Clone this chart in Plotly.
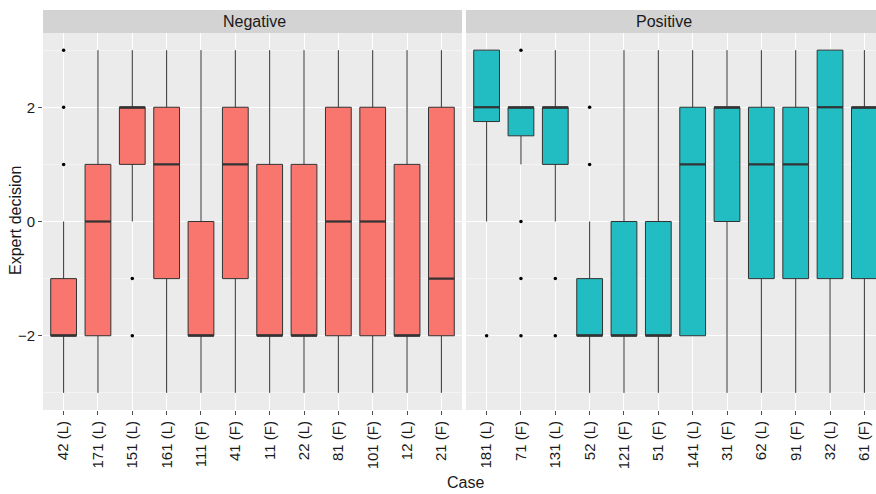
import plotly.graph_objects as go

# ---- data -------------------------------------------------------------
neg_cases = ["42 (L)", "171 (L)", "151 (L)", "161 (L)", "111 (F)", "41 (F)",
             "11 (F)", "22 (L)", "81 (F)", "101 (F)", "12 (L)", "21 (F)"]
neg_low = [-3, -3, 0, -3, -3, -3, -3, -3, -3, -3, -3, -3]
neg_q1 = [-2, -2, 1, -1, -2, -1, -2, -2, -2, -2, -2, -2]
neg_med = [-2, 0, 2, 1, -2, 1, -2, -2, 0, 0, -2, -1]
neg_q3 = [-1, 1, 2, 2, 0, 2, 1, 1, 2, 2, 1, 2]
neg_high = [0, 3, 3, 3, 3, 3, 3, 3, 3, 3, 3, 3]
neg_out_case = ["42 (L)", "42 (L)", "42 (L)", "151 (L)", "151 (L)"]
neg_out_val = [1, 2, 3, -1, -2]

pos_cases = ["181 (L)", "71 (F)", "131 (L)", "52 (L)", "121 (F)", "51 (F)",
             "141 (L)", "31 (F)", "62 (L)", "91 (F)", "32 (L)", "61 (F)"]
pos_low = [0, 1, 0, -3, -3, -3, -2, -3, -3, -3, -3, -3]
pos_q1 = [1.75, 1.5, 1, -2, -2, -2, -2, 0, -1, -1, -1, -1]
pos_med = [2, 2, 2, -2, -2, -2, 1, 2, 1, 1, 2, 2]
pos_q3 = [3, 2, 2, -1, 0, 0, 2, 2, 2, 2, 3, 2]
pos_high = [3, 2, 3, 0, 3, 3, 3, 3, 3, 3, 3, 3]
pos_out_case = ["181 (L)", "71 (F)", "71 (F)", "71 (F)", "71 (F)",
                "131 (L)", "131 (L)", "52 (L)", "52 (L)"]
pos_out_val = [-2, 3, 0, -1, -2, -1, -2, 1, 2]

y_ticks = [-2, 0, 2]
y_tick_text = ["\u22122", "0", "2"]

# ---- style ------------------------------------------------------------
W, H = 876, 494
ML, MR, MT, MB = 43, 0, 10, 84
PW = W - ML - MR
PH = H - MT - MB
STRIP = 23
BOX_W = 0.75
RED, TEAL = "#F8766D", "#22BDC2"
EDGE = "#333333"
FONT = "Liberation Sans, Arial, sans-serif"

left_px = 419
gap_px = 4
unit_px = left_px / 12.2
right_px = PW - left_px - gap_px
dom_left = [0, left_px / PW]
dom_right = [(left_px + gap_px) / PW, 1]
y_top = (PH - STRIP) / PH


def px_x(p):
    return (p - ML) / PW


def px_y(p):
    return (H - MB - p) / PH


fig = go.Figure()


def add_facet(cases, low, q1, med, q3, high, out_case, out_val, color, xa, ya):
    pos = list(range(1, len(cases) + 1))
    idx = {c: i + 1 for i, c in enumerate(cases)}
    fig.add_trace(go.Box(
        x=pos, q1=q1, median=med, q3=q3, lowerfence=low, upperfence=high,
        width=BOX_W, whiskerwidth=0, fillcolor=color, boxpoints=False,
        line=dict(color=EDGE, width=1), xaxis=xa, yaxis=ya,
        showlegend=False, hoverinfo="skip"))
    # thicker median bars
    mx, my = [], []
    for p, m in zip(pos, med):
        mx += [p - BOX_W / 2, p + BOX_W / 2, None]
        my += [m, m, None]
    fig.add_trace(go.Scatter(x=mx, y=my, mode="lines",
                             line=dict(color=EDGE, width=2.2),
                             xaxis=xa, yaxis=ya, showlegend=False,
                             hoverinfo="skip"))
    fig.add_trace(go.Scatter(x=[idx[c] for c in out_case], y=out_val,
                             mode="markers",
                             marker=dict(color="black", size=3.5),
                             xaxis=xa, yaxis=ya, showlegend=False,
                             hoverinfo="skip"))


add_facet(neg_cases, neg_low, neg_q1, neg_med, neg_q3, neg_high,
          neg_out_case, neg_out_val, RED, "x", "y")
add_facet(pos_cases, pos_low, pos_q1, pos_med, pos_q3, pos_high,
          pos_out_case, pos_out_val, TEAL, "x2", "y2")

xcommon = dict(showgrid=True, gridcolor="white", gridwidth=1.1,
               zeroline=False, ticks="outside", ticklen=4,
               tickcolor="#4D4D4D", tickangle=-90,
               tickfont=dict(family=FONT, size=15, color="#1A1A1A"),
               tickmode="array", tickvals=list(range(1, 13)))
ycommon = dict(range=[-3.3, 3.3], domain=[0, y_top], showgrid=True,
               gridcolor="white", gridwidth=1.1, zeroline=False,
               tickmode="array", tickvals=y_ticks,
               minor=dict(tickmode="array", tickvals=[-3, -1, 1, 3],
                          showgrid=True, gridcolor="#F4F4F4", gridwidth=0.6,
                          ticks=""))

fig.update_layout(
    width=W, height=H,
    margin=dict(l=ML, r=MR, t=MT, b=MB),
    paper_bgcolor="white", plot_bgcolor="#EBEBEB",
    font=dict(family=FONT, color="#1A1A1A"),
    xaxis=dict(domain=dom_left, range=[0.4, 12.6], ticktext=neg_cases,
               anchor="y", **xcommon),
    xaxis2=dict(domain=dom_right, range=[0.4, 0.4 + right_px / unit_px],
                ticktext=pos_cases, anchor="y2", **xcommon),
    yaxis=dict(anchor="x", ticktext=y_tick_text, ticks="outside", ticklen=4,
               tickcolor="#4D4D4D",
               tickfont=dict(family=FONT, size=15, color="#1A1A1A"),
               **ycommon),
    yaxis2=dict(anchor="x2", matches="y", showticklabels=False, ticks="",
                **ycommon),
)

# facet strips
for dom in (dom_left, dom_right):
    fig.add_shape(type="rect", xref="paper", yref="paper",
                  x0=dom[0], x1=dom[1], y0=y_top, y1=1,
                  fillcolor="#D3D3D3", line=dict(width=0), layer="below")

labels = [("Negative", 254, 21.5, 0), ("Positive", 664, 21.5, 0),
          ("Case", 466, 482, 0), ("Expert decision", 15, 221, -90)]
for text, xp, yp, ang in labels:
    fig.add_annotation(text=text, xref="paper", yref="paper",
                       x=px_x(xp), y=px_y(yp), xanchor="center",
                       yanchor="middle", showarrow=False, textangle=ang,
                       font=dict(family=FONT, size=16, color="#1A1A1A"))

fig.write_html("out.html")
